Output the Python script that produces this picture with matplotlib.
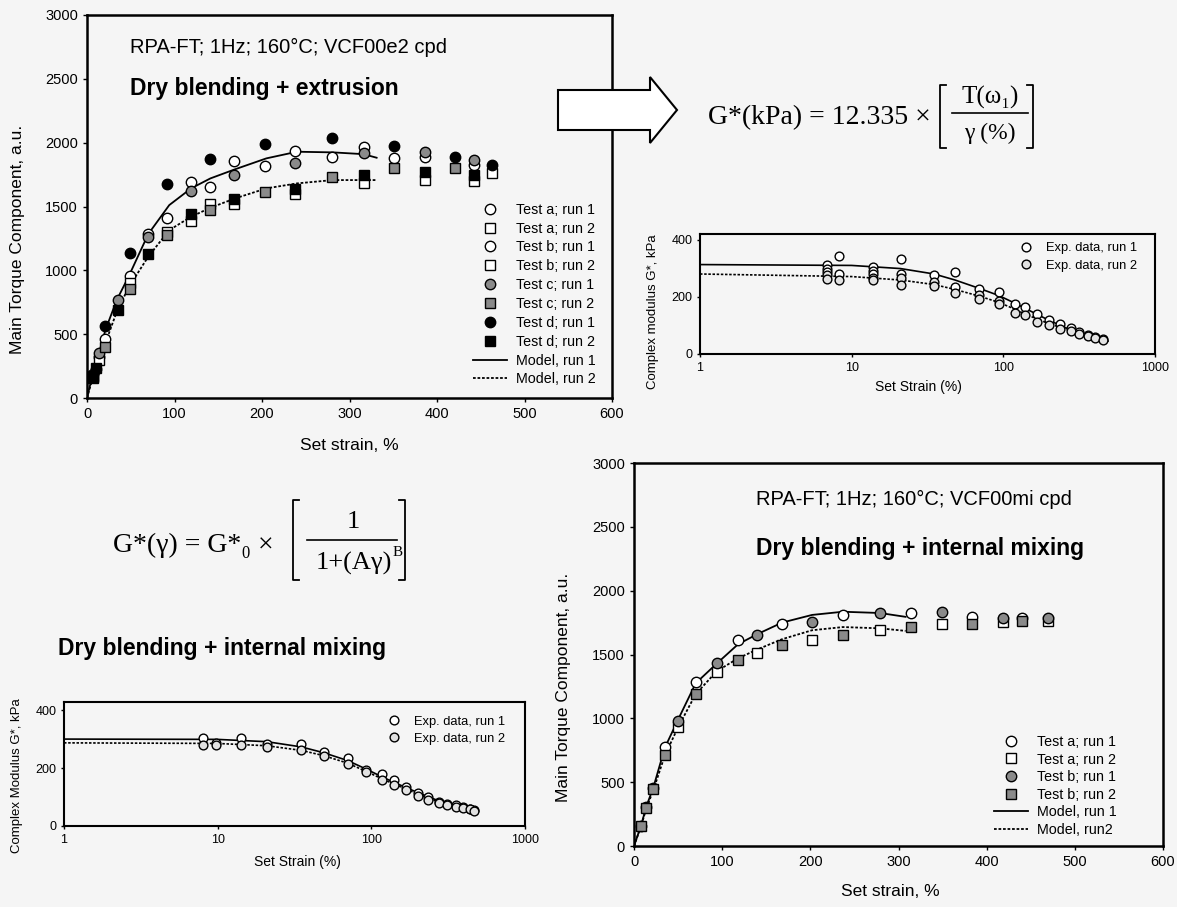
import matplotlib.pyplot as plt
from matplotlib.lines import Line2D
from matplotlib.patches import Polygon

plt.rcParams["font.family"] = ["Liberation Sans", "DejaVu Sans"]

W, H = 1177, 907
BG = "#f5f5f5"
SERIF = ["Liberation Serif", "DejaVu Serif"]

# --- top-left: dry blending + extrusion (torque vs set strain) ---
tl_a1_x = [7, 21, 49, 91, 140, 203, 280, 351, 386]
tl_a1_y = [190, 462, 958, 1411, 1650, 1817, 1890, 1880, 1890]
tl_a2_x = [7, 49, 140, 238, 386]
tl_a2_y = [175, 900, 1520, 1600, 1707]
tl_b1_x = [10, 14, 70, 119, 168, 238, 316, 442]
tl_b1_y = [230, 323, 1284, 1690, 1858, 1937, 1963, 1825]
tl_b2_x = [14, 91, 119, 168, 316, 442, 463]
tl_b2_y = [300, 1300, 1388, 1520, 1681, 1696, 1761]
tl_c1_x = [14, 35, 70, 119, 168, 238, 316, 386, 442]
tl_c1_y = [350, 767, 1263, 1621, 1744, 1837, 1919, 1924, 1864]
tl_c2_x = [7, 21, 49, 91, 140, 203, 280, 351, 421]
tl_c2_y = [165, 402, 851, 1280, 1472, 1616, 1733, 1798, 1798]
tl_d1_x = [21, 49, 91, 140, 203, 280, 351, 421, 463]
tl_d1_y = [564, 1138, 1673, 1869, 1986, 2036, 1971, 1890, 1825]
tl_d2_x = [7, 10, 35, 70, 119, 168, 238, 316, 386, 442]
tl_d2_y = [154, 232, 689, 1127, 1438, 1558, 1635, 1746, 1773, 1746]
tl_model_x = [0, 7, 14, 21, 34, 48, 70, 94, 119, 141, 169, 205, 240, 281, 316, 331]
tl_model1_y = [0, 200, 360, 532, 767, 958, 1284, 1511, 1642, 1720, 1791, 1877, 1929, 1924, 1910, 1882]
tl_model2_y = [0, 170, 300, 430, 676, 872, 1107, 1315, 1420, 1490, 1563, 1642, 1681, 1707, 1707, 1707]

# --- bottom-right: dry blending + internal mixing ---
br_a1_x = [35, 70, 118, 168, 237, 314, 383, 440]
br_a1_y = [772, 1282, 1617, 1740, 1810, 1823, 1792, 1785]
br_a2_x = [50, 94, 139, 202, 279, 349, 419, 469]
br_a2_y = [929, 1366, 1510, 1614, 1693, 1735, 1753, 1760]
br_b1_x = [8, 14, 22, 50, 94, 139, 202, 279, 349, 419, 469]
br_b1_y = [157, 309, 458, 981, 1431, 1656, 1758, 1823, 1831, 1787, 1785]
br_b2_x = [8, 14, 22, 35, 70, 118, 168, 237, 314, 383, 440]
br_b2_y = [157, 296, 445, 714, 1191, 1460, 1575, 1656, 1714, 1740, 1760]
br_model_x = [0, 8, 14, 22, 35, 50, 70, 94, 118, 140, 168, 202, 237, 279, 308]
br_model1_y = [0, 160, 310, 460, 770, 990, 1275, 1430, 1580, 1660, 1750, 1810, 1835, 1825, 1795]
br_model2_y = [0, 155, 295, 440, 710, 930, 1190, 1370, 1470, 1540, 1620, 1690, 1715, 1705, 1685]

# --- top-right: G* vs strain (extrusion) ---
tr_x1 = [6.9, 6.9, 6.9, 8.3, 8.3, 13.8, 13.8, 13.8, 21, 21, 34.8, 48.3, 48.3, 69.3,
         93, 119, 140, 166, 200, 235, 278, 316, 360, 405, 456]
tr_y1 = [310, 298, 287, 343, 280, 304, 292, 280, 331, 280, 277, 287, 235, 226,
         217, 175, 166, 139, 120, 106, 90, 76, 66, 58, 51]
tr_x2 = [6.9, 6.9, 8.3, 13.8, 13.8, 21, 21, 34.8, 34.8, 48.3, 69.3, 69.3, 93, 93,
         119, 140, 166, 200, 235, 278, 316, 360, 405, 456]
tr_y2 = [277, 263, 258, 265, 259, 265, 241, 253, 237, 213, 205, 193, 187, 175,
         145, 135, 111, 101, 87, 80, 70, 62, 55, 48]
tr_model_x = [1, 10, 21, 35, 48, 70, 93, 119, 140, 200, 278, 490]
tr_model1_y = [313, 310, 299, 280, 259, 229, 205, 178, 159, 118, 84, 45]
tr_model2_y = [280, 271, 259, 243, 226, 202, 181, 157, 139, 106, 82, 45]

# --- bottom-left: G* vs strain (internal mixing) ---
bl_x = [8, 9.8, 14.2, 20.9, 35, 48.9, 70, 93, 117, 140, 168, 201, 235, 274, 312, 355, 394, 437, 467]
bl_y1 = [303, 285, 303, 282, 282, 255, 234, 193, 178, 158, 136, 113, 101, 83, 77, 71, 65, 59, 56]
bl_y2 = [279, 280, 279, 273, 261, 241, 214, 186, 160, 142, 125, 105, 91, 80, 73, 67, 62, 57, 53]
bl_model_x = [1, 9.9, 20.9, 35, 48.9, 70, 93, 117, 140, 201, 274, 497]
bl_model1_y = [300, 299, 291, 273, 253, 226, 196, 170, 151, 115, 87, 50]
bl_model2_y = [287, 285, 277, 261, 243, 217, 188, 163, 145, 110, 83, 50]


def fx(px):
    return px / W


def fy(py):
    return 1 - py / H


def box(left, top, right, bottom):
    return [fx(left), fy(bottom), (right - left) / W, (bottom - top) / H]


OPEN_C = dict(marker="o", mfc="white", mec="black")
GRAY_C = dict(marker="o", mfc="#8a8a8a", mec="black")
BLACK_C = dict(marker="o", mfc="black", mec="black")
OPEN_S = dict(marker="s", mfc="white", mec="black")
GRAY_S = dict(marker="s", mfc="#8a8a8a", mec="black")
BLACK_S = dict(marker="s", mfc="black", mec="black")
DOTS = (0, (1.5, 1.0))


def style_axes(ax, lw):
    ax.set_facecolor(BG)
    for s in ax.spines.values():
        s.set_linewidth(lw)


fig = plt.figure(figsize=(W / 100, H / 100), dpi=100)
fig.patch.set_facecolor(BG)

# ---------------- top-left ----------------
ax = fig.add_axes(box(87, 15, 612, 398))
style_axes(ax, 1.8)
tl_series = [
    (tl_a1_x, tl_a1_y, OPEN_C, 7.5, "Test a; run 1"),
    (tl_a2_x, tl_a2_y, OPEN_S, 6.5, "Test a; run 2"),
    (tl_b1_x, tl_b1_y, OPEN_C, 7.5, "Test b; run 1"),
    (tl_b2_x, tl_b2_y, OPEN_S, 6.5, "Test b; run 2"),
    (tl_c1_x, tl_c1_y, GRAY_C, 7.5, "Test c; run 1"),
    (tl_c2_x, tl_c2_y, GRAY_S, 6.5, "Test c; run 2"),
    (tl_d1_x, tl_d1_y, BLACK_C, 7.5, "Test d; run 1"),
    (tl_d2_x, tl_d2_y, BLACK_S, 6.5, "Test d; run 2"),
]
handles = []
for xs, ys, st, ms, lab in tl_series:
    h, = ax.plot(xs, ys, ls="none", ms=ms, mew=1.0, zorder=3, label=lab, **st)
    handles.append(h)
h1, = ax.plot(tl_model_x, tl_model1_y, color="black", lw=1.3, zorder=2, label="Model, run 1")
h2, = ax.plot(tl_model_x, tl_model2_y, color="black", lw=1.3, ls=DOTS, zorder=2, label="Model, run 2")
handles += [h1, h2]
ax.set_xlim(0, 600)
ax.set_ylim(0, 3000)
ax.set_xticks(range(0, 601, 100))
ax.set_yticks(range(0, 3001, 500))
ax.tick_params(labelsize=10.5, length=3, width=1)
ax.set_xlabel("Set strain, %", fontsize=12.5)
ax.set_ylabel("Main Torque Component, a.u.", fontsize=12.5)
ax.xaxis.set_label_coords(0.5, -0.105)
ax.yaxis.set_label_coords(-0.118, 0.413)
ax.legend(handles=handles, loc="upper left", bbox_to_anchor=(0.735, 0.51),
          frameon=False, fontsize=10.3, labelspacing=0.34, handlelength=2.4,
          handletextpad=0.6, borderpad=0, borderaxespad=0)
ax.text((130 - 87) / 525, 1 - (47 - 15) / 383, "RPA-FT; 1Hz; 160°C; VCF00e2 cpd",
        transform=ax.transAxes, fontsize=14.5, va="center", ha="left")
ax.text((130 - 87) / 525, 1 - (88 - 15) / 383, "Dry blending + extrusion",
        transform=ax.transAxes, fontsize=16.5, fontweight="bold", va="center", ha="left")

# ---------------- top-right (log) ----------------
ax = fig.add_axes(box(700, 234, 1155, 354))
style_axes(ax, 1.5)
ax.plot(tr_model_x, tr_model1_y, color="black", lw=1.2, zorder=2)
ax.plot(tr_model_x, tr_model2_y, color="black", lw=1.2, ls=DOTS, zorder=2)
r1, = ax.plot(tr_x1, tr_y1, ls="none", ms=6.3, mew=1.0, zorder=3, **OPEN_C)
r2, = ax.plot(tr_x2, tr_y2, ls="none", ms=6.3, mew=1.0, zorder=3,
              marker="o", mfc="#e2e2e2", mec="black")
ax.set_xscale("log")
ax.set_xlim(1, 1000)
ax.set_ylim(0, 420)
ax.set_xticks([1, 10, 100, 1000])
ax.set_xticklabels(["1", "10", "100", "1000"])
ax.minorticks_off()
ax.set_yticks([0, 200, 400])
ax.tick_params(labelsize=9, length=2, width=1)
ax.set_xlabel("Set Strain (%)", fontsize=10)
ax.set_ylabel("Complex modulus G*, kPa", fontsize=9.5)
ax.xaxis.set_label_coords(0.48, -0.22)
ax.yaxis.set_label_coords(-0.09, 0.35)
ax.legend([r1, r2], ["Exp. data, run 1", "Exp. data, run 2"], loc="upper left",
          bbox_to_anchor=(0.7, 0.93), frameon=False, fontsize=9.3,
          labelspacing=0.4, handlelength=1.2, handletextpad=0.9, borderpad=0, borderaxespad=0)

# ---------------- bottom-left (log) ----------------
ax = fig.add_axes(box(64, 702, 525, 826))
style_axes(ax, 1.5)
ax.plot(bl_model_x, bl_model1_y, color="black", lw=1.2, zorder=2)
ax.plot(bl_model_x, bl_model2_y, color="black", lw=1.2, ls=DOTS, zorder=2)
r1, = ax.plot(bl_x, bl_y1, ls="none", ms=6.3, mew=1.0, zorder=3, **OPEN_C)
r2, = ax.plot(bl_x, bl_y2, ls="none", ms=6.3, mew=1.0, zorder=3,
              marker="o", mfc="#e2e2e2", mec="black")
ax.set_xscale("log")
ax.set_xlim(1, 1000)
ax.set_ylim(0, 428)
ax.set_xticks([1, 10, 100, 1000])
ax.set_xticklabels(["1", "10", "100", "1000"])
ax.minorticks_off()
ax.set_yticks([0, 200, 400])
ax.tick_params(labelsize=9, length=2, width=1)
ax.set_xlabel("Set Strain (%)", fontsize=10)
ax.set_ylabel("Complex Modulus G*, kPa", fontsize=9.5)
ax.xaxis.set_label_coords(0.506, -0.23)
ax.yaxis.set_label_coords(-0.088, 0.41)
ax.legend([r1, r2], ["Exp. data, run 1", "Exp. data, run 2"], loc="upper left",
          bbox_to_anchor=(0.7, 0.89), frameon=False, fontsize=9.3,
          labelspacing=0.4, handlelength=1.2, handletextpad=0.9, borderpad=0, borderaxespad=0)

# ---------------- bottom-right ----------------
ax = fig.add_axes(box(634, 463, 1163, 846))
style_axes(ax, 1.8)
br_series = [
    (br_a1_x, br_a1_y, OPEN_C, 7.5, "Test a; run 1"),
    (br_a2_x, br_a2_y, OPEN_S, 6.5, "Test a; run 2"),
    (br_b1_x, br_b1_y, GRAY_C, 7.5, "Test b; run 1"),
    (br_b2_x, br_b2_y, GRAY_S, 6.5, "Test b; run 2"),
]
handles = []
for xs, ys, st, ms, lab in br_series:
    h, = ax.plot(xs, ys, ls="none", ms=ms, mew=1.0, zorder=3, label=lab, **st)
    handles.append(h)
h1, = ax.plot(br_model_x, br_model1_y, color="black", lw=1.3, zorder=2, label="Model, run 1")
h2, = ax.plot(br_model_x, br_model2_y, color="black", lw=1.3, ls=DOTS, zorder=2, label="Model, run2")
handles += [h1, h2]
ax.set_xlim(0, 600)
ax.set_ylim(0, 3000)
ax.set_xticks(range(0, 601, 100))
ax.set_yticks(range(0, 3001, 500))
ax.tick_params(labelsize=10.5, length=3, width=1)
ax.set_xlabel("Set strain, %", fontsize=12.5)
ax.set_ylabel("Main Torque Component, a.u.", fontsize=12.5)
ax.xaxis.set_label_coords(0.484, -0.1)
ax.yaxis.set_label_coords(-0.119, 0.413)
ax.legend(handles=handles, loc="upper left", bbox_to_anchor=(0.68, 0.29),
          frameon=False, fontsize=10.3, labelspacing=0.25, handlelength=2.4,
          handletextpad=0.6, borderpad=0, borderaxespad=0)
ax.text((756 - 634) / 529, (846 - 499) / 383, "RPA-FT; 1Hz; 160°C; VCF00mi cpd",
        transform=ax.transAxes, fontsize=14.5, va="center", ha="left")
ax.text((756 - 634) / 529, (846 - 549) / 383, "Dry blending + internal mixing",
        transform=ax.transAxes, fontsize=16.5, fontweight="bold", va="center", ha="left")

# ---------------- free text, arrow and equations ----------------
fig.text(fx(58), fy(648), "Dry blending + internal mixing", fontsize=16.5,
         fontweight="bold", va="center", ha="left")

arrow_px = [(558, 90), (650, 90), (650, 77), (677, 110), (650, 143), (650, 130), (558, 130)]
fig.add_artist(Polygon([(fx(x), fy(y)) for x, y in arrow_px], closed=True,
                       transform=fig.transFigure, facecolor="white",
                       edgecolor="black", lw=1.5, zorder=10))


def bracket(x, top, bottom, side):
    d = 6 if side == "left" else -6
    pts_x = [x + d, x, x, x + d]
    pts_y = [top, top, bottom, bottom]
    fig.add_artist(Line2D([fx(v) for v in pts_x], [fy(v) for v in pts_y],
                          transform=fig.transFigure, color="black", lw=1.3))


def hline(x0, x1, y):
    fig.add_artist(Line2D([fx(x0), fx(x1)], [fy(y), fy(y)],
                          transform=fig.transFigure, color="black", lw=1.2))


# G*(kPa) = 12.335 x [T(w1)/gamma(%)]
fig.text(fx(708), fy(118), "G*(kPa) = 12.335 ×", family=SERIF, fontsize=20,
         va="center", ha="left")
bracket(940, 85, 148, "left")
bracket(1033, 85, 148, "right")
hline(952, 1028, 113)
fig.text(fx(990), fy(97), "T(ω₁)", family=SERIF, fontsize=18, va="center", ha="center")
fig.text(fx(990), fy(133), "γ (%)", family=SERIF, fontsize=17, va="center", ha="center")

# G*(gamma) = G*0 x [1 / (1+(A gamma)^B)]
fig.text(fx(113), fy(545), "G*(γ) = G*₀ ×", family=SERIF, fontsize=20,
         va="center", ha="left")
bracket(293, 500, 580, "left")
bracket(405, 500, 580, "right")
hline(307, 397, 540)
fig.text(fx(353), fy(522), "1", family=SERIF, fontsize=19, va="center", ha="center")
fig.text(fx(392), fy(563), "1+(Aγ)", family=SERIF, fontsize=19, va="center", ha="right")
fig.text(fx(393), fy(552), "B", family=SERIF, fontsize=11, va="center", ha="left")

fig.savefig("out.png", dpi=100, facecolor=BG)
